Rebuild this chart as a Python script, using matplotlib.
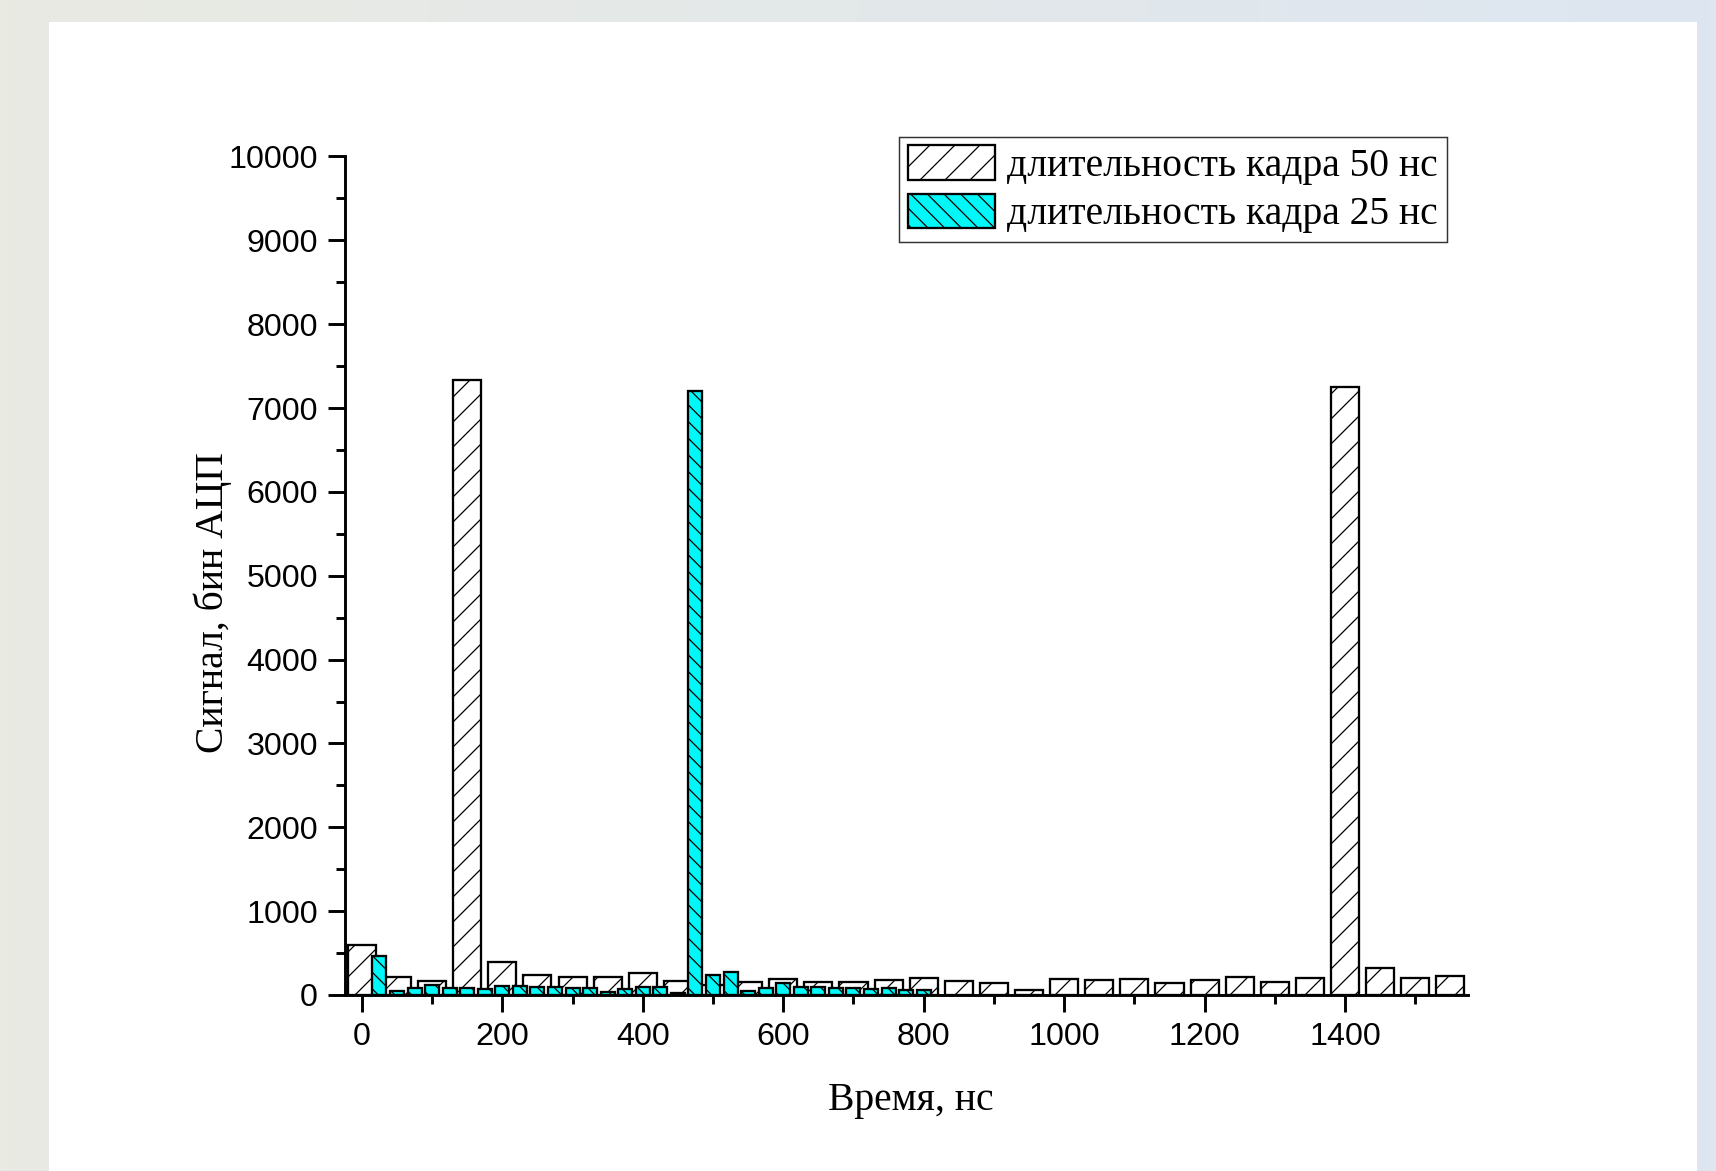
import numpy as np
import matplotlib
matplotlib.use("Agg")
import matplotlib.pyplot as plt
from matplotlib.patches import Rectangle
from matplotlib.colors import LinearSegmentedColormap
from matplotlib.ticker import MultipleLocator

# Данные: кадр 50 нс (серые столбцы) и кадр 25 нс (бирюзовые столбцы)
t_50 = [0, 50, 100, 150, 200, 250, 300, 350, 400, 450, 500, 550, 600, 650, 700, 750,
        800, 850, 900, 950, 1000, 1050, 1100, 1150, 1200, 1250, 1300, 1350, 1400, 1450, 1500, 1550]
signal_50 = [600, 211, 171, 7340, 394, 239, 211, 211, 259, 171, 120, 160, 195, 155, 155, 179,
             207, 171, 139, 60, 187, 180, 191, 139, 179, 211, 155, 199, 7250, 326, 207, 231]

t_25 = [25, 50, 75, 100, 125, 150, 175, 200, 225, 250, 275, 300, 325, 350, 375, 400,
        425, 450, 475, 500, 525, 550, 575, 600, 625, 650, 675, 700, 725, 750, 775, 800]
signal_25 = [465, 51, 87, 119, 79, 80, 72, 107, 107, 99, 91, 80, 80, 40, 68, 91,
             91, 20, 7200, 239, 278, 51, 80, 139, 91, 91, 80, 84, 68, 88, 60, 60]

label_50 = "длительность кадра 50 нс"
label_25 = "длительность кадра 25 нс"

W, H, DPI = 1716, 1171, 150
plt.rcParams['hatch.linewidth'] = 0.6

fig = plt.figure(figsize=(W / DPI, H / DPI), dpi=DPI)

# --- фон: светлый градиент и белая "страница" ---
ax_bg = fig.add_axes([0, 0, 1, 1], zorder=-10)
grad = np.linspace(0, 1, 256).reshape(1, -1)
cmap_bg = LinearSegmentedColormap.from_list("bg", ["#e9eae2", "#dde6f1"])
ax_bg.imshow(grad, aspect='auto', cmap=cmap_bg, extent=[0, 1, 0, 1])
ax_bg.add_patch(Rectangle((49 / W, 0), (1697 - 49) / W, 1 - 22 / H,
                          facecolor='white', edgecolor='none'))
ax_bg.set_xlim(0, 1)
ax_bg.set_ylim(0, 1)
ax_bg.axis('off')

# --- основной график ---
ax = fig.add_axes([345 / W, 1 - 995 / H, (1468 - 345) / W, (995 - 156.5) / H])
ax.set_facecolor('none')

ax.bar(t_50, signal_50, width=40, facecolor='white', edgecolor='black',
       linewidth=1.1, hatch='//', label=label_50, zorder=2)
ax.bar(t_25, signal_25, width=20, facecolor='#00f8f8', edgecolor='black',
       linewidth=1.1, hatch='\\\\\\', label=label_25, zorder=3)

ax.set_xlim(-24, 1575)
ax.set_ylim(0, 10000)

ax.xaxis.set_major_locator(MultipleLocator(200))
ax.xaxis.set_minor_locator(MultipleLocator(100))
ax.yaxis.set_major_locator(MultipleLocator(1000))
ax.yaxis.set_minor_locator(MultipleLocator(500))

for side in ['top', 'right']:
    ax.spines[side].set_visible(False)
for side in ['left', 'bottom']:
    ax.spines[side].set_linewidth(1.4)
    ax.spines[side].set_zorder(4)

ax.tick_params(which='major', direction='out', length=8, width=1.4,
               labelsize=15.5, pad=5)
ax.tick_params(which='minor', direction='out', length=4.2, width=1.4)
for lbl in ax.get_xticklabels() + ax.get_yticklabels():
    lbl.set_fontfamily('Liberation Sans')

ax.set_xlabel("Время, нс", fontsize=19, family='Liberation Serif', va='center')
ax.xaxis.set_label_coords(0.5036, -0.126)
ax.set_ylabel("Сигнал, бин АЦП", fontsize=19, family='Liberation Serif', va='center')
ax.yaxis.set_label_coords(-0.118, 0.468)

leg = ax.legend(loc='upper left', bbox_to_anchor=(899 / W, 1 - 136.7 / H),
                bbox_transform=fig.transFigure, borderaxespad=0,
                prop={'family': 'Liberation Serif', 'size': 19},
                handlelength=2.2, handleheight=0.95, handletextpad=0.32,
                labelspacing=0.22, borderpad=0.22, fancybox=False,
                framealpha=1, edgecolor='#333333')
leg.get_frame().set_linewidth(0.7)

fig.savefig('out.png', dpi=DPI)
